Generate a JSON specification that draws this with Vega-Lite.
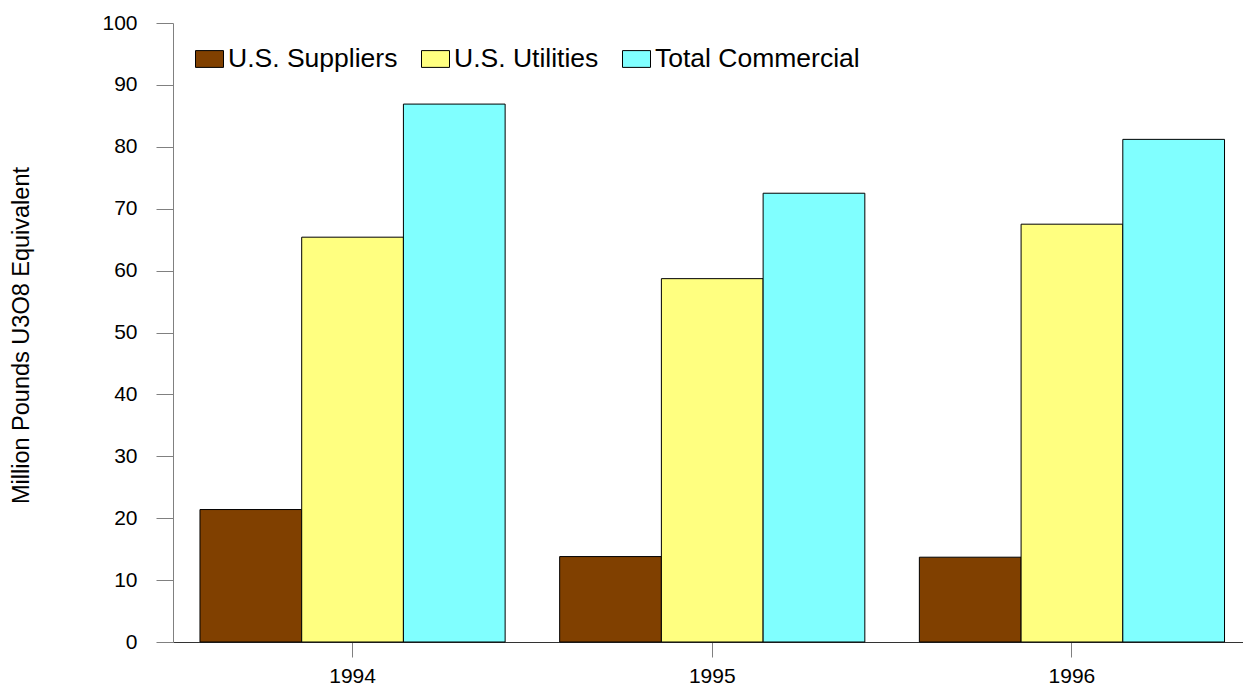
{
  "$schema": "https://vega.github.io/schema/vega-lite/v6.json",
  "autosize": {"type": "none"},
  "width": 1070,
  "height": 619,
  "padding": {"left": 173, "top": 23, "right": 0, "bottom": 48},
  "background": "white",
  "config": {
    "view": {"stroke": null},
    "font": "Liberation Sans",
    "axis": {"grid": false, "labelColor": "black", "titleColor": "black", "labelFont": "Liberation Sans", "titleFont": "Liberation Sans"},
    "legend": {"labelFont": "Liberation Sans"}
  },
  "data": {
    "values": [
      {"year": "1994", "series": "U.S. Suppliers", "value": 21.4},
      {"year": "1994", "series": "U.S. Utilities", "value": 65.4},
      {"year": "1994", "series": "Total Commercial", "value": 86.9},
      {"year": "1995", "series": "U.S. Suppliers", "value": 13.8},
      {"year": "1995", "series": "U.S. Utilities", "value": 58.7},
      {"year": "1995", "series": "Total Commercial", "value": 72.5},
      {"year": "1996", "series": "U.S. Suppliers", "value": 13.7},
      {"year": "1996", "series": "U.S. Utilities", "value": 67.5},
      {"year": "1996", "series": "Total Commercial", "value": 81.2}
    ]
  },
  "mark": {"type": "bar", "stroke": "black", "strokeWidth": 1},
  "encoding": {
    "x": {
      "field": "year",
      "type": "nominal",
      "scale": {"range": [0, 1078.5], "paddingInner": 0.1516, "paddingOuter": 0.075},
      "axis": {
        "title": null,
        "labelAngle": 0,
        "labelFontSize": 21,
        "labelPadding": 8,
        "tickSize": 15,
        "tickColor": "#808080",
        "domainColor": "#333333",
        "domainWidth": 1
      }
    },
    "xOffset": {
      "field": "series",
      "type": "nominal",
      "sort": ["U.S. Suppliers", "U.S. Utilities", "Total Commercial"],
      "scale": {"paddingInner": 0, "paddingOuter": 0}
    },
    "y": {
      "field": "value",
      "type": "quantitative",
      "scale": {"domain": [0, 100], "nice": false},
      "axis": {
        "title": "Million Pounds U3O8 Equivalent",
        "titleFontSize": 23.5,
        "titleFontWeight": "normal",
        "titleAngle": -90,
        "titleX": -151.5,
        "titleY": 312,
        "titleBaseline": "middle",
        "titleAlign": "center",
        "values": [0, 10, 20, 30, 40, 50, 60, 70, 80, 90, 100],
        "labelFontSize": 21,
        "labelPadding": 19,
        "tickSize": 17,
        "tickColor": "#808080",
        "domainColor": "#808080"
      }
    },
    "color": {
      "field": "series",
      "type": "nominal",
      "sort": ["U.S. Suppliers", "U.S. Utilities", "Total Commercial"],
      "scale": {
        "domain": ["U.S. Suppliers", "U.S. Utilities", "Total Commercial"],
        "range": ["#804000", "#FFFF80", "#80FFFF"]
      },
      "legend": {
        "title": null,
        "orient": "none",
        "direction": "horizontal",
        "legendX": 22,
        "legendY": 21.5,
        "padding": 0,
        "symbolType": "M-1,-0.6H1V0.6H-1Z",
        "symbolSize": 784,
        "symbolStrokeColor": "black",
        "symbolStrokeWidth": 1,
        "symbolOpacity": 1,
        "labelFontSize": 26.5,
        "labelColor": "black",
        "labelOffset": 4,
        "labelLimit": 400,
        "columnPadding": 21
      }
    }
  }
}
